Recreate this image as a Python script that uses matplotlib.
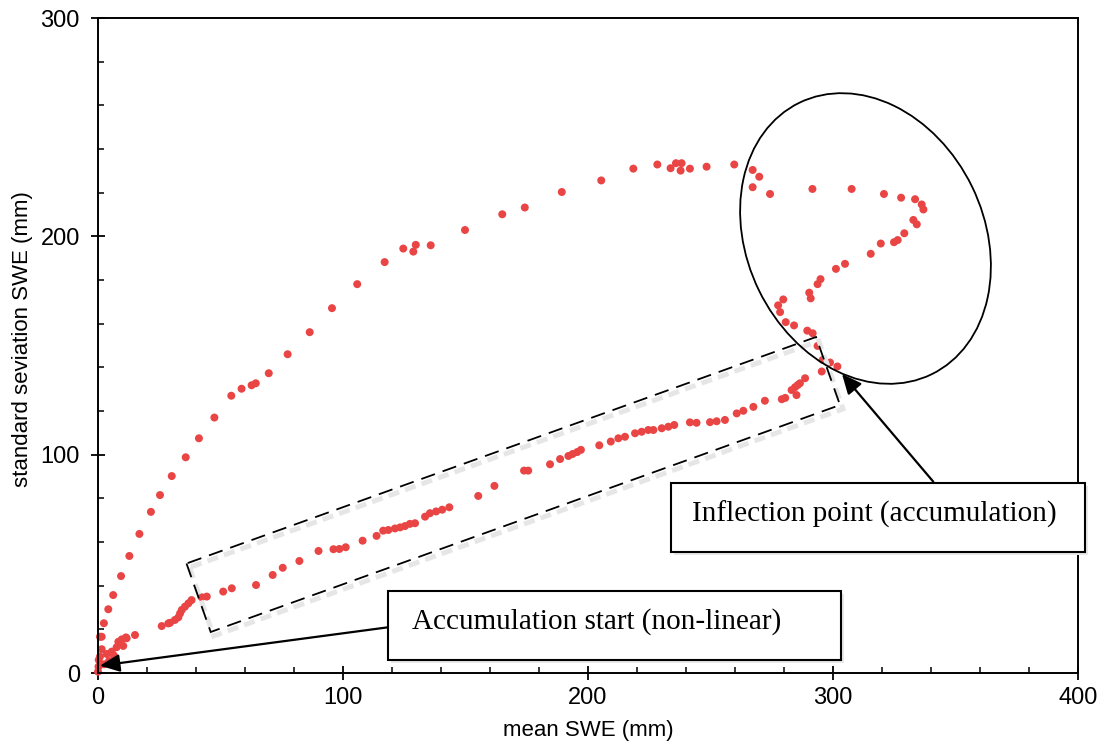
import matplotlib.pyplot as plt
from matplotlib.patches import Ellipse, Polygon, Rectangle
from matplotlib.transforms import IdentityTransform

# mean SWE (mm) and its standard deviation (mm)
# accumulation branch first, then the melt branch back to zero
mean_swe = [
    0.0, 0.2, 0.3, 0.8, 2.5, 4.5, 3.6, 5.6, 6.5, 7.6, 10.3, 9.0, 8.3, 9.7, 11.4, 11.7, 15.1,
    26.0, 28.7, 29.4, 31.4, 32.8, 33.5, 34.2, 35.5, 36.9, 38.2, 42.3, 44.4, 51.1, 54.6,
    64.5, 71.3, 75.4, 82.2, 90.0, 96.1, 98.5, 101.1, 108.0, 113.7, 116.4, 118.5, 121.2,
    123.3, 125.3, 127.3, 129.4, 133.5, 135.5, 138.0, 140.5, 143.4, 155.2, 161.8, 173.9,
    175.6, 184.5, 188.6, 192.0, 193.7, 195.6, 197.1, 204.6, 209.3, 212.4, 215.1, 219.2,
    221.9, 224.6, 226.7, 230.1, 232.8, 235.2, 241.6, 244.3, 249.8, 252.5, 255.9, 260.7,
    263.4, 267.5, 272.2, 279.1, 280.5, 283.1, 284.5, 285.6, 286.5, 285.1, 288.6, 295.4,
    301.8, 298.8, 295.8, 293.7, 291.7, 289.5, 284.1, 280.7, 278.4, 277.6, 279.7, 290.9,
    290.3, 293.7, 294.9, 301.2, 304.9, 315.4, 319.5, 324.9, 326.4, 329.1, 334.2, 332.8,
    336.9, 336.2, 333.5, 327.8, 320.8, 307.6, 291.6, 274.3, 267.2, 269.9, 267.2, 259.7,
    248.4, 241.6, 237.8, 238.2, 235.9, 233.7, 228.3, 218.5, 205.4, 189.3, 174.2, 165.0,
    149.8, 135.8, 129.7, 128.7, 124.6, 117.0, 105.8, 95.5, 86.4, 77.4, 69.7, 64.4, 62.7,
    58.6, 54.4, 47.5, 41.2, 35.8, 30.1, 25.3, 21.6, 16.9, 12.8, 9.4, 6.2, 4.2, 2.4, 1.5,
    1.5, 0.8,
]
sd_swe = [
    0.6, 2.9, 6.0, 7.5, 4.0, 5.5, 8.7, 9.8, 8.0, 11.8, 12.4, 13.6, 14.3, 15.4, 16.3, 15.9, 17.4,
    21.5, 22.7, 23.0, 24.3, 25.5, 27.3, 28.9, 30.4, 31.9, 33.4, 34.7, 35.0, 37.3, 38.8,
    40.3, 44.9, 48.2, 51.3, 55.9, 56.7, 56.8, 57.6, 60.6, 62.8, 65.2, 65.5, 66.2,
    66.7, 67.3, 68.3, 68.6, 71.6, 73.2, 74.0, 74.8, 75.9, 81.1, 85.7, 92.7,
    92.7, 95.6, 98.0, 99.4, 100.3, 101.2, 102.2, 104.3, 106.0, 107.5, 108.2, 109.8,
    110.5, 111.3, 111.3, 112.1, 112.8, 113.6, 114.8, 114.6, 114.9, 115.3, 115.9, 118.9,
    120.1, 121.9, 124.7, 125.4, 126.0, 129.6, 130.9, 131.9, 132.7, 127.3, 135.0, 138.1,
    140.4, 142.2, 143.4, 149.8, 155.6, 156.8, 159.2, 160.7, 165.3, 168.4, 171.1, 171.6,
    174.2, 178.1, 180.4, 185.1, 187.4, 192.0, 196.7, 197.3, 198.3, 201.4, 205.5, 207.5,
    212.3, 214.6, 217.0, 217.7, 219.4, 221.7, 221.7, 219.4, 222.5, 227.3, 230.4, 232.9,
    231.9, 231.0, 230.1, 233.5, 233.5, 231.2, 232.9, 231.0, 225.6, 220.3, 213.2, 210.1,
    202.9, 195.9, 196.1, 193.0, 194.4, 188.2, 178.1, 167.1, 156.1, 146.0, 137.3, 132.7, 131.8,
    130.2, 127.0, 117.0, 107.5, 98.8, 90.2, 81.5, 73.8, 63.7, 53.6, 44.4, 35.7, 29.2, 22.8, 16.6,
    10.9, 16.6,
]

x_label = 'mean SWE (mm)'
y_label = 'standard seviation SWE (mm)'
note_start = 'Accumulation start (non-linear)'
note_inflection = 'Inflection point (accumulation)'

W, H = 1104, 748
plt.rcParams['font.family'] = ['Liberation Sans', 'DejaVu Sans']

fig = plt.figure(figsize=(W / 100, H / 100), dpi=100)
ax = fig.add_axes([98 / W, 75 / H, 980 / W, 655 / H])

ax.scatter(mean_swe, sd_swe, s=33, color='#e94545', edgecolors='none', clip_on=False, zorder=2)

ax.set_xlim(0, 400)
ax.set_ylim(0, 300)
ax.set_xticks([0, 100, 200, 300, 400])
ax.set_yticks([0, 100, 200, 300])
ax.set_xticks(range(0, 401, 20), minor=True)
ax.set_yticks(range(0, 301, 20), minor=True)
ax.tick_params(which='major', direction='inout', length=10, width=1.3, labelsize=17)
ax.tick_params(axis='x', which='major', pad=5)
ax.tick_params(axis='y', which='major', pad=8)
ax.tick_params(which='minor', direction='in', length=4, width=1.1)
for sp in ax.spines.values():
    sp.set_linewidth(1.4)

ax.set_xlabel(x_label, fontsize=16)
ax.set_ylabel(y_label, fontsize=16)
ax.xaxis.set_label_coords(0.5, -0.072)
ax.yaxis.set_label_coords(-0.066, 0.51)

# annotation shapes, in image pixels (y measured upward)
px = IdentityTransform()

# dashed box around the linear part
band = [(186.5, 184.5), (210.7, 116), (840, 343), (816, 411)]
shadow = [(x + 3, y - 4) for x, y in band]
fig.add_artist(Polygon(shadow, closed=True, fill=False, lw=3.5, ec='#e6e6e6',
                       ls=(0, (2.3, 1.3)), transform=px, zorder=1))
fig.add_artist(Polygon(band, closed=True, fill=False, lw=1.3, ec='black',
                       ls=(0, (8, 4.5)), transform=px, zorder=2))

# ellipse round the inflection region
fig.add_artist(Ellipse((865.5, 509.5), width=302, height=237, angle=-64,
                       fill=False, lw=1.3, ec='black', transform=px, zorder=2))

# arrows
head = '-|>,head_length=0.6,head_width=0.27'
ax.annotate('', xy=(100, 82.3), xytext=(388, 120.7), xycoords='figure pixels',
            textcoords='figure pixels',
            arrowprops=dict(arrowstyle=head, lw=1.6, color='black',
                            mutation_scale=20, shrinkA=0, shrinkB=0))
ax.annotate('', xy=(842, 374), xytext=(933.3, 266.3), xycoords='figure pixels',
            textcoords='figure pixels',
            arrowprops=dict(arrowstyle=head, lw=1.6, color='black',
                            mutation_scale=20, shrinkA=0, shrinkB=0))

# text boxes
for x0, y0, w, h in [(388.3, 88.5, 452.4, 68.8), (670.7, 195.7, 414.3, 69.0)]:
    fig.add_artist(Rectangle((x0 + 3, y0 - 3), w, h, fc='#e8e8e8', ec='none',
                             transform=px, zorder=3))
    fig.add_artist(Rectangle((x0, y0), w, h, fc='white', ec='black', lw=1.5,
                             transform=px, zorder=4))

fig.text(596.5, 119.7, note_start, fontsize=21, family='Liberation Serif',
         ha='center', va='baseline', transform=px, zorder=5)
fig.text(874.2, 226.3, note_inflection, fontsize=21, family='Liberation Serif',
         ha='center', va='baseline', transform=px, zorder=5)

fig.savefig('out.png', dpi=100)
